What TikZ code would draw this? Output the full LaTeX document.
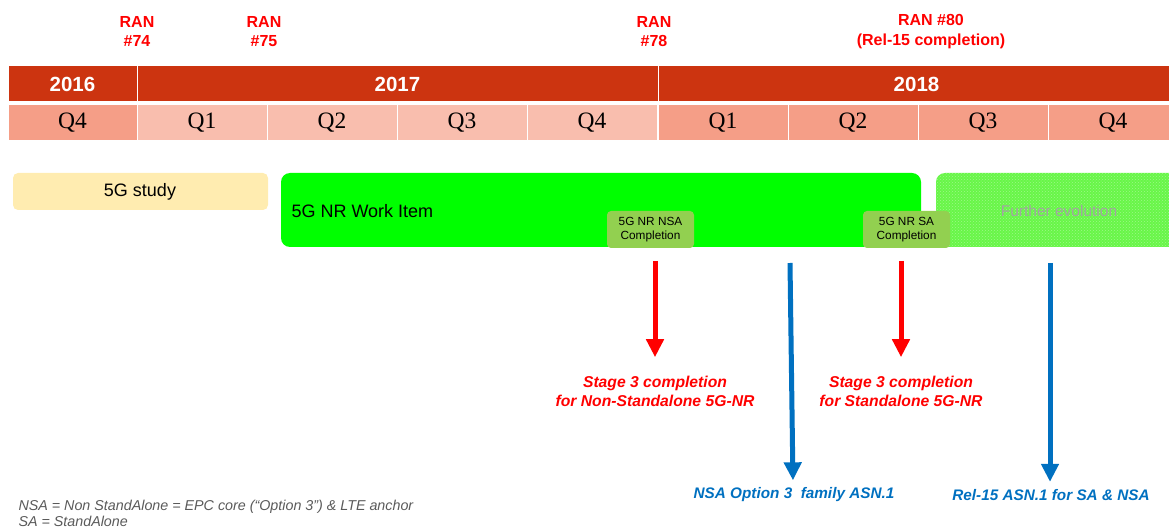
\documentclass[tikz,border=0pt]{standalone}
\usepackage{fontspec}
\setmainfont{Liberation Sans}
\newfontfamily\qfont{Liberation Serif}
\usetikzlibrary{arrows.meta,positioning,patterns}

\definecolor{yearred}{RGB}{204,52,16}
\definecolor{qdark}{RGB}{245,158,135}
\definecolor{qlight}{RGB}{249,190,174}
\definecolor{studyyel}{RGB}{255,236,176}
\definecolor{wigreen}{RGB}{0,255,0}
\definecolor{evogreen}{RGB}{104,246,72}
\definecolor{compgreen}{RGB}{146,208,80}
\definecolor{asnblue}{RGB}{0,112,192}
\definecolor{notegray}{RGB}{90,90,90}

\begin{document}
\begin{tikzpicture}[x=1pt,y=-1pt,
  year/.style={fill=yearred,draw=white,line width=1pt,text=white,
    font=\fontsize{20.5}{22}\selectfont\bfseries},
  quarter/.style={draw=white,line width=1pt,font=\qfont\fontsize{23.5}{25}\selectfont},
  ran/.style={text=red,align=center,font=\fontsize{16}{19.5}\selectfont\bfseries},
  comp/.style={fill=compgreen,rounded corners=4pt,align=center,
    font=\fontsize{11.8}{14.5}\selectfont},
  stage/.style={text=red,align=center,font=\fontsize{15.7}{19}\selectfont\bfseries\itshape},
  asn/.style={text=asnblue,font=\fontsize{15.3}{18}\selectfont\bfseries\itshape},
  redarrow/.style={red,line width=5pt,-{Triangle[width=17pt,length=18pt]}},
  bluearrow/.style={asnblue,line width=5pt,-{Triangle[width=17pt,length=18pt]}}]
\useasboundingbox (0,0) rectangle (1169,529);

% RAN meetings
\node[ran] (ran74) at (137,31.5) {RAN\\\#74};
\node[ran] (ran75) at (264,31.5) {RAN\\\#75};
\node[ran] (ran78) at (654,31.5) {RAN\\\#78};
\node[ran] (ran80) at (931,31.5) {RAN \#80\\(Rel-15 completion)};

% years
\draw[year] (8,66) rectangle node (y16) {2016} (137,102);
\draw[year] (137,66) rectangle node (y17) {2017} (658,102);
\draw[year] (658,66) rectangle node (y18) {2018} (1175,102);

% quarters
\draw[quarter,fill=qdark] (8,105) rectangle node (q16d) {Q4} (137,141);
\foreach \x/\q [count=\i] in {137/Q1,267/Q2,397/Q3,527/Q4}
  \draw[quarter,fill=qlight] (\x,105) rectangle node (q17\i) {\q} (\x+130,141);
\foreach \x/\q [count=\i] in {658/Q1,788/Q2,918/Q3,1048/Q4}
  \draw[quarter,fill=qdark] (\x,105) rectangle node (q18\i) {\q} (\x+130,141);

% phases
\fill[studyyel,rounded corners=5pt] (13,173) rectangle (268,210);
\node[font=\fontsize{18}{20}\selectfont] (study) at (140,192) {5G study};
\fill[wigreen,rounded corners=9pt] (281,173) rectangle (921,247);
\node[anchor=west,font=\fontsize{18}{20}\selectfont] (wi) at (288,211) {5G NR Work Item};
\fill[evogreen,rounded corners=9pt] (936,173) rectangle (1180,247);
\fill[pattern=crosshatch dots,pattern color=white!35!evogreen,rounded corners=9pt]
  (936,173) rectangle (1180,247);
\node[text=black!36,font=\fontsize{15.5}{17}\selectfont] (evo) at (1059,211) {Further evolution};

\node[comp,minimum width=87pt,minimum height=37pt] (nsa) at (650.5,229.5) {5G NR NSA\\Completion};
\node[comp,minimum width=87pt,minimum height=37pt] (sa) at (906.5,229.5) {5G NR SA\\Completion};

% outcomes
\node[stage] (st3nsa) at (655,391) {Stage 3 completion\\for Non-Standalone 5G-NR};
\node[stage] (st3sa) at (901,391) {Stage 3 completion\\for Standalone 5G-NR};
\node[asn] (asnnsa) at (794,495) {NSA Option 3\ \ family ASN.1};
\node[asn] (asnrel) at (1051,495) {Rel-15 ASN.1 for SA \& NSA};

\coordinate (nsatop) at (655,261);
\coordinate (satop) at (901,261);
\coordinate (nsablue) at (790,263);
\coordinate (relblue) at (1050,263);

\draw[redarrow,shorten >=15pt] (nsatop) -- (st3nsa.north -| nsatop);
\draw[redarrow,shorten >=15pt] (satop) -- (st3sa.north -| satop);
\draw[bluearrow,shorten >=4pt] (nsablue) -- ([xshift=-1pt]asnnsa.north);
\draw[bluearrow,shorten >=4pt] (relblue) -- ([xshift=-1pt]asnrel.north);

% note
\node[anchor=west,align=left,text=notegray,font=\fontsize{14.3}{16}\selectfont\itshape]
  (note) at (15,513) {NSA = Non StandAlone = EPC core (“Option 3”) \& LTE anchor\\SA = StandAlone};
\end{tikzpicture}
\end{document}
